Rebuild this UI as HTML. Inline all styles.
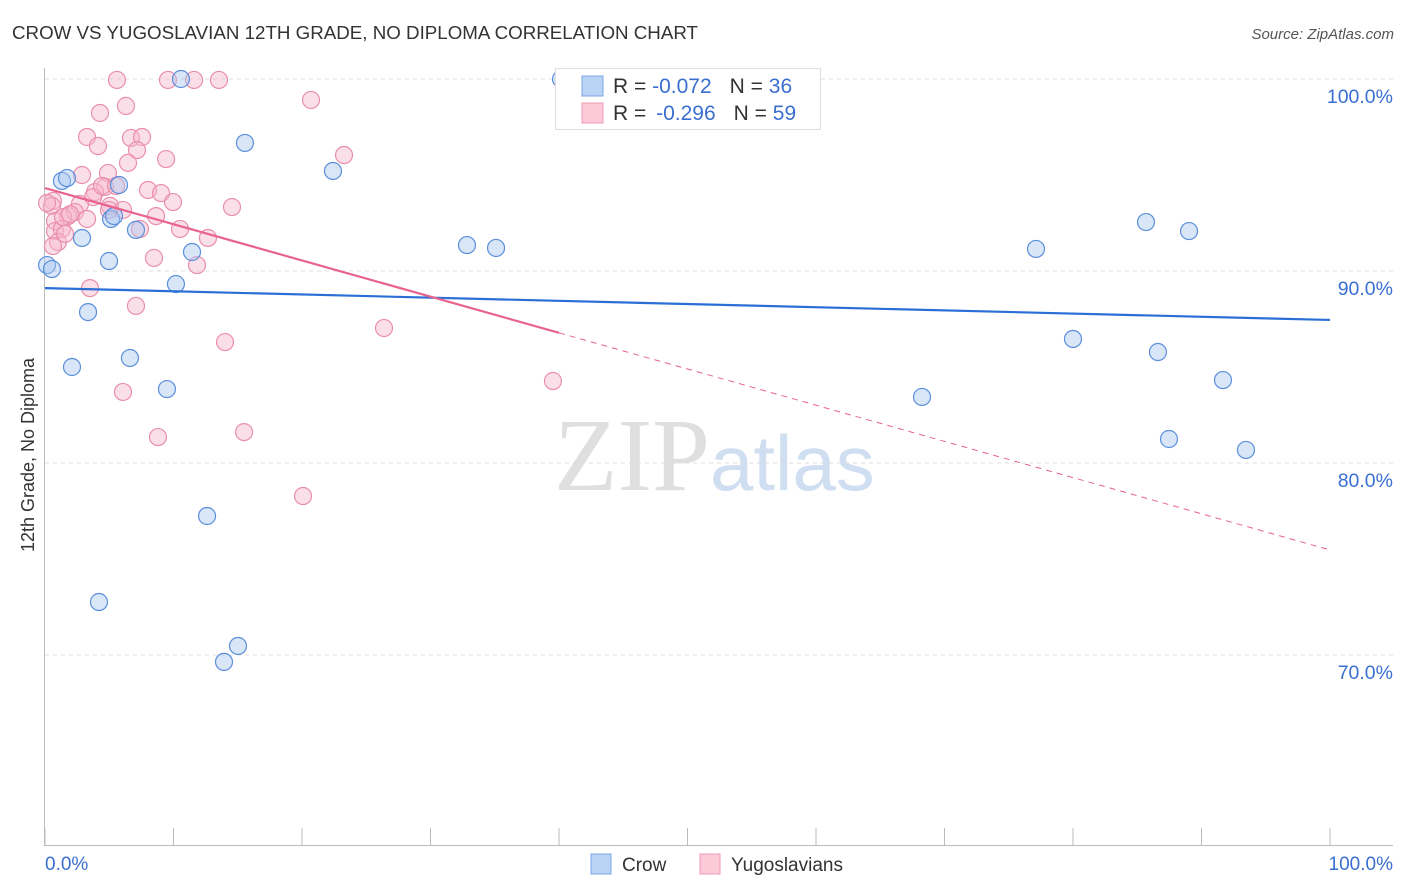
<!DOCTYPE html>
<html><head><meta charset="utf-8"><style>
body{margin:0;background:#fff;font-family:"Liberation Sans",sans-serif}
svg{display:block}
</style></head><body>
<svg id="chart" width="1406" height="892" xmlns="http://www.w3.org/2000/svg">
<text x="12" y="39" font-size="18" fill="#333" textLength="686" lengthAdjust="spacingAndGlyphs">CROW VS YUGOSLAVIAN 12TH GRADE, NO DIPLOMA CORRELATION CHART</text>
<text x="1394" y="39" font-size="15" fill="#555" text-anchor="end" font-style="italic">Source: ZipAtlas.com</text>
<text x="554" y="490" font-size="104" font-family="Liberation Serif,serif" fill="#d8d8d8" opacity="0.8">ZIP<tspan fill="#c5d6ee" font-family="Liberation Sans,sans-serif" font-size="78">atlas</tspan></text>
<g id="grid"></g>
<g id="axes"></g>
<g id="points"></g>
<g id="lines"></g>
<text transform="translate(34,455) rotate(-90)" font-size="18" fill="#333" text-anchor="middle">12th Grade, No Diploma</text>
<g>
<rect x="555.5" y="68.5" width="265" height="61" fill="#fff" stroke="#ddd"/>
<rect x="582" y="76" width="21" height="20" fill="#b9d3f5" stroke="#7aa7e6"/>
<rect x="582" y="103" width="21" height="20" fill="#fcc9d8" stroke="#f09ab5"/>
<text x="613" y="93" font-size="21" fill="#333">R = <tspan fill="#3a6fd0">-0.072</tspan><tspan dx="18">N = </tspan><tspan fill="#3a6fd0">36</tspan></text>
<text x="613" y="120" font-size="21" fill="#333">R = <tspan fill="#3a6fd0" dx="4">-0.296</tspan><tspan dx="18">N = </tspan><tspan fill="#3a6fd0">59</tspan></text>
</g>
<g>
<rect x="591" y="854" width="20" height="20" fill="#b9d3f5" stroke="#7aa7e6"/>
<text x="622" y="871" font-size="19" fill="#333">Crow</text>
<rect x="700" y="854" width="20" height="20" fill="#fcc9d8" stroke="#f09ab5"/>
<text x="731" y="871" font-size="19" fill="#333">Yugoslavians</text>
</g>
</svg>
<script>
const crowX=[0.16,0.54,1.32,1.71,5.76,5.14,7.08,2.88,4.98,3.35,2.1,6.61,9.49,10.19,11.44,10.58,15.56,22.41,12.61,4.2,15.02,13.93,32.84,35.1,40.16,56.34,77.12,85.68,89.03,80.0,86.61,68.25,91.67,87.47,93.46,5.37];
const crowY=[90.31,90.1,94.69,94.84,94.48,92.71,92.14,91.72,90.52,87.86,85.0,85.47,83.85,89.32,90.99,100,96.67,95.21,77.24,72.76,70.47,69.64,91.35,91.2,100,100,91.15,92.55,92.08,86.46,85.78,83.44,84.32,81.25,80.68,92.86];
const yugX=[5.6,9.57,11.6,13.54,20.7,6.3,4.28,3.27,4.12,6.69,7.55,7.16,6.46,9.42,23.27,2.88,4.9,4.67,3.89,3.74,8.02,9.03,9.96,14.55,0.62,0.54,2.72,5.06,6.07,8.64,10.51,12.68,1.79,2.33,3.27,0.78,0.78,1.32,1.01,1.56,0.62,7.39,8.48,11.83,3.5,7.08,26.38,14.01,39.53,6.07,8.79,15.49,20.08,0.16,1.4,4.98,4.44,5.53,1.95];
const yugY=[99.95,99.95,99.95,99.95,98.91,98.6,98.23,96.98,96.51,96.93,96.98,96.3,95.63,95.83,96.04,95.0,95.1,94.38,94.11,93.85,94.22,94.06,93.59,93.33,93.65,93.39,93.49,93.39,93.18,92.86,92.19,91.72,92.86,93.07,92.71,92.6,92.08,92.19,91.51,91.93,91.3,92.19,90.68,90.31,89.11,88.18,87.03,86.3,84.27,83.7,81.35,81.61,78.28,93.54,92.81,93.18,94.43,94.43,92.96];
const crowTrend=[89.11,87.45];
const yugTrend=[94.32,75.47];
const yTicks=[100,90,80,70];
const yTickLabels=["100.0%","90.0%","80.0%","70.0%"];
const xTickLabels=["0.0%","100.0%"];
const NS="http://www.w3.org/2000/svg";
const X=v=>45+v*12.85, Y=v=>79+(100-v)*19.2;
function mk(parent,tag,attrs){const e=document.createElementNS(NS,tag);for(const k in attrs)e.setAttribute(k,attrs[k]);document.getElementById(parent).appendChild(e);return e;}
yTicks.forEach((t,i)=>{
 const g=mk('grid','line',{x1:45,x2:1393,y1:Y(t),y2:Y(t),stroke:'#ddd','stroke-dasharray':'4,4'});
 
 
 const l=mk('axes','text',{x:1393,y:Y(t)+24,'font-size':19.5,fill:'#3a6fd0','text-anchor':'end'});
 l.textContent=yTickLabels[i];
 
 
});
mk('axes','line',{x1:44.5,x2:44.5,y1:68,y2:845,stroke:'#bbb'});
mk('axes','line',{x1:44,x2:1393,y1:845.5,y2:845.5,stroke:'#bbb'});
for(let i=0;i<=10;i++){const t=mk('axes','line',{x1:X(i*10),x2:X(i*10),y1:828,y2:845,stroke:'#bbb'});}
[[0,'start',45],[100,'end',1393]].forEach((a,i)=>{const l=mk('axes','text',{x:a[2],y:870,'font-size':19,fill:'#3a6fd0','text-anchor':a[1]});l.textContent=xTickLabels[i];});
yugX.forEach((x,i)=>{const c=mk('points','circle',{cx:X(x),cy:Y(yugY[i]),r:8.5,fill:'#f7b8cb',"fill-opacity":0.45,stroke:'#ea8fab','stroke-width':1.2});});
crowX.forEach((x,i)=>{const c=mk('points','circle',{cx:X(x),cy:Y(crowY[i]),r:8.5,fill:'#a9c8f0',"fill-opacity":0.45,stroke:'#5b8fdc','stroke-width':1.2});});
const cl=mk('lines','line',{x1:X(0),y1:Y(crowTrend[0]),x2:X(100),y2:Y(crowTrend[1]),stroke:'#2a6fd6','stroke-width':2.2});

const yAt=x=>yugTrend[0]+(yugTrend[1]-yugTrend[0])*x/100;
const yl=mk('lines','line',{x1:X(0),y1:Y(yAt(0)),x2:X(40),y2:Y(yAt(40)),stroke:'#e8648e','stroke-width':2.2});

const yd=mk('lines','line',{x1:X(40),y1:Y(yAt(40)),x2:X(100),y2:Y(yAt(100)),stroke:'#e8648e','stroke-width':1,'stroke-dasharray':'6,5'});

</script>
</body></html>
